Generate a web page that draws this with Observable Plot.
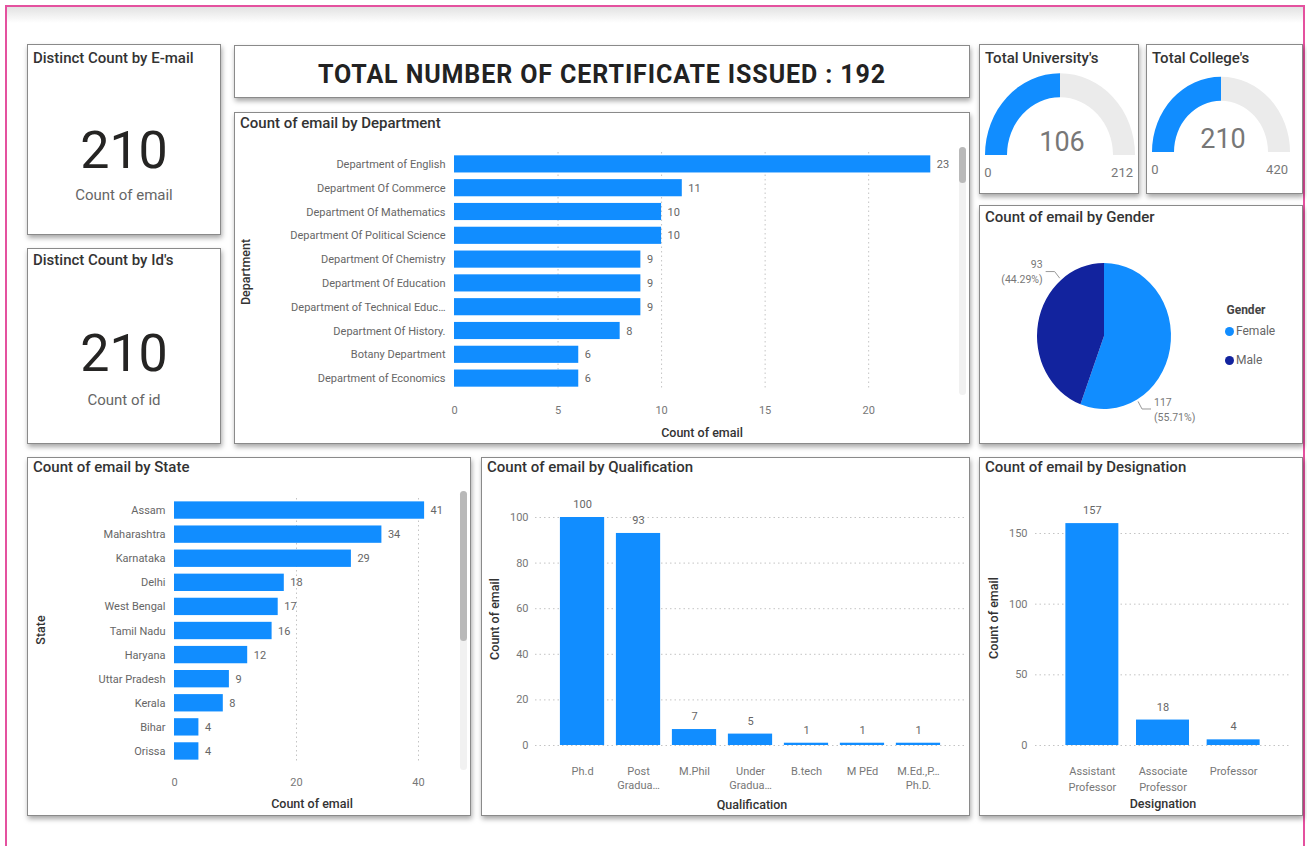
<!DOCTYPE html>
<html><head><meta charset="utf-8">
<script src="https://cdn.jsdelivr.net/npm/d3@7"></script>
<script src="https://cdn.jsdelivr.net/npm/@observablehq/plot@0.6"></script>
<style>
html,body{margin:0;padding:0;background:#fff;width:1307px;height:846px;overflow:hidden;font-family:Roboto,"Noto Sans",sans-serif;}
#frame{position:absolute;left:5px;top:5px;width:1300px;height:870px;border:2px solid #e4519f;box-sizing:border-box;}
#band{position:absolute;left:7px;top:7px;width:1296px;height:16px;background:linear-gradient(#e2e2e2,#fff);}
.panel{position:absolute;background:#fff;border:1.5px solid #8a8a8a;box-sizing:border-box;box-shadow:1px 3px 5px rgba(0,0,0,.35);}
.ptitle{position:absolute;left:5px;top:2px;font:500 15px Roboto,sans-serif;color:#333;white-space:nowrap;line-height:18px;}
.atitle{position:absolute;font:500 12.5px Roboto,sans-serif;color:#333;white-space:nowrap;}
.ctext{position:absolute;white-space:nowrap;transform:translate(-50%,-50%);}
.sbtrack{position:absolute;background:#f1f1f1;border-radius:4px;width:7px;}
.sbthumb{position:absolute;background:#b9b9b9;border-radius:4px;width:7px;}
svg.plotabs{position:absolute;}
</style></head>
<body>
<div id="frame"></div><div id="band"></div>
<script>
// ---------- data ----------
const kpiTitles = ["Distinct Count by E-mail", "Distinct Count by Id's"];
const kpiValues = [210, 210];
const kpiLabels = ["Count of email", "Count of id"];
const certTitle = "TOTAL NUMBER OF CERTIFICATE ISSUED";
const certTotal = 192;

const deptNames = ["Department of English", "Department Of Commerce", "Department Of Mathematics",
  "Department Of Political Science", "Department Of Chemistry", "Department Of Education",
  "Department of Technical Educ…", "Department Of History.", "Botany Department", "Department of Economics"];
const deptCounts = [23, 11, 10, 10, 9, 9, 9, 8, 6, 6];
const deptTicks = [0, 5, 10, 15, 20];

const stateNames = ["Assam", "Maharashtra", "Karnataka", "Delhi", "West Bengal", "Tamil Nadu",
  "Haryana", "Uttar Pradesh", "Kerala", "Bihar", "Orissa"];
const stateCounts = [41, 34, 29, 18, 17, 16, 12, 9, 8, 4, 4];
const stateTicks = [0, 20, 40];

const qualNames = ["Ph.d", "Post\nGradua…", "M.Phil", "Under\nGradua…", "B.tech", "M PEd", "M.Ed.,P…\nPh.D."];
const qualCounts = [100, 93, 7, 5, 1, 1, 1];
const qualTicks = [0, 20, 40, 60, 80, 100];

const desigNames = ["Assistant\nProfessor", "Associate\nProfessor", "Professor"];
const desigCounts = [157, 18, 4];
const desigTicks = [0, 50, 100, 150];

const genderNames = ["Female", "Male"];
const genderCounts = [117, 93];
const genderColors = ["#118DFF", "#12239E"];

const gaugeTitles = ["Total University's", "Total College's"];
const gaugeValues = [106, 210];
const gaugeMax = [212, 420];

// ---------- helpers ----------
const BLUE = "#118DFF";
const LABEL_FONT = "Roboto, 'Noto Sans', sans-serif";
const SY = 1.09;

function panel(x, y, w, h, title, titleTop) {
  const d = document.createElement("div");
  d.className = "panel";
  Object.assign(d.style, {left: x + "px", top: y + "px", width: w + "px", height: h + "px"});
  if (title) {
    const t = document.createElement("div");
    t.className = "ptitle"; t.textContent = title;
    if (titleTop != null) t.style.top = titleTop + "px";
    d.appendChild(t);
  }
  document.body.appendChild(d);
  return d;
}
function ctext(text, cx, cy, css) {
  const d = document.createElement("div");
  d.className = "ctext"; d.textContent = text;
  d.style.left = cx + "px"; d.style.top = cy + "px";
  Object.assign(d.style, css || {});
  document.body.appendChild(d);
  return d;
}
function axisTitle(text, cx, cy, rotate) {
  const d = document.createElement("div");
  d.className = "atitle"; d.textContent = text;
  d.style.left = cx + "px"; d.style.top = cy + "px";
  d.style.transform = "translate(-50%,-50%)" + (rotate ? " rotate(-90deg)" : "");
  document.body.appendChild(d);
}
function put(svg, x, y) {
  svg.classList.add("plotabs");
  svg.style.left = x + "px"; svg.style.top = y + "px";
  document.body.appendChild(svg);
}
function scrollbar(x, y, trackH, thumbH) {
  const t = document.createElement("div"); t.className = "sbtrack";
  Object.assign(t.style, {left: x + "px", top: y + "px", height: trackH + "px"});
  const b = document.createElement("div"); b.className = "sbthumb";
  Object.assign(b.style, {left: x + "px", top: y + "px", height: thumbH + "px"});
  document.body.appendChild(t); document.body.appendChild(b);
}
const baseStyle = {fontFamily: LABEL_FONT, fontSize: "11px", color: "#777", background: "transparent", overflow: "visible"};
const gridStyle = {stroke: "#c4c4c4", strokeOpacity: 1, strokeDasharray: "1.5 3"};

// ---------- panels ----------
panel(27, 44, 194, 191, kpiTitles[0], 4);
panel(27, 248, 194, 196, kpiTitles[1], 2);
panel(234, 45, 736, 53);
panel(234, 112, 736, 332, "Count of email by Department", 1);
panel(979, 44, 160, 150, gaugeTitles[0], 4);
panel(1146, 44, 157, 150, gaugeTitles[1], 4);
panel(979, 205, 324, 239, "Count of email by Gender", 2);
panel(27, 457, 444, 359, "Count of email by State", 0);
panel(481, 457, 489, 359, "Count of email by Qualification", 0);
panel(979, 457, 324, 359, "Count of email by Designation", 0);

// KPI cards
const kpiCenters = [[124, 150, 195], [124, 353, 400]];
kpiValues.forEach((v, i) => {
  const [cx, cy, ly] = kpiCenters[i];
  ctext(String(v), cx, cy, {font: "400 52px Roboto, sans-serif", color: "#252423"});
  ctext(kpiLabels[i], cx, ly, {font: "400 15px Roboto, sans-serif", color: "#666"});
});
ctext(`${certTitle} : ${certTotal}`, 602, 74, {font: "700 25px Roboto, sans-serif", letterSpacing: "0.9px", color: "#222"});

// ---------- Department ----------
const dept = deptNames.map((name, i) => ({name, count: deptCounts[i]}));
put(Plot.plot({
  width: 736, height: 300, marginLeft: 220, marginRight: 19, marginTop: 12, marginBottom: 50,
  style: baseStyle,
  x: {domain: [0, 24]},
  y: {domain: deptNames, paddingInner: 0.28, paddingOuter: 0.14, round: false},
  marks: [
    Plot.gridX(deptTicks.slice(1), gridStyle),
    Plot.barX(dept, {x: "count", y: "name", fill: BLUE}),
    Plot.text(dept, {x: "count", y: "name", text: "count", textAnchor: "start", dx: 6, fill: "#666"}),
    Plot.axisX(deptTicks, {tickSize: 0, tickPadding: 16, label: null}),
    Plot.axisY({tickSize: 0, tickPadding: 9, label: null, fill: "#666"})
  ]
}), 234, 140);
axisTitle("Count of email", 702, 432);
axisTitle("Department", 245, 272, true);
scrollbar(959, 147, 248, 36);

// ---------- State ----------
const states = stateNames.map((name, i) => ({name, count: stateCounts[i]}));
put(Plot.plot({
  width: 444, height: 325, marginLeft: 147, marginRight: 28.6, marginTop: 13, marginBottom: 47,
  style: baseStyle,
  x: {domain: [0, 44]},
  y: {domain: stateNames, paddingInner: 0.28, paddingOuter: 0.14, round: false},
  marks: [
    Plot.gridX(stateTicks.slice(1), gridStyle),
    Plot.barX(states, {x: "count", y: "name", fill: BLUE}),
    Plot.text(states, {x: "count", y: "name", text: "count", textAnchor: "start", dx: 6, fill: "#666"}),
    Plot.axisX(stateTicks, {tickSize: 0, tickPadding: 15, label: null}),
    Plot.axisY({tickSize: 0, tickPadding: 9, label: null, fill: "#666"})
  ]
}), 27, 485);
axisTitle("Count of email", 312, 803);
axisTitle("State", 40, 630, true);
scrollbar(460, 491, 279, 150);

// ---------- Qualification ----------
const qual = qualNames.map((name, i) => ({name, count: qualCounts[i]}));
put(Plot.plot({
  width: 489, height: 325, marginLeft: 54, marginRight: 5, marginTop: 32, marginBottom: 65,
  style: baseStyle,
  x: {domain: qualNames, paddingInner: 0.21, paddingOuter: 0.445, round: false},
  y: {domain: [0, 100]},
  marks: [
    Plot.gridY(qualTicks, gridStyle),
    Plot.barY(qual, {x: "name", y: "count", fill: BLUE}),
    Plot.text(qual, {x: "name", y: "count", text: "count", dy: -13, fill: "#666"}),
    Plot.axisY(qualTicks, {tickSize: 0, tickPadding: 7, label: null}),
    Plot.axisX({tickSize: 0, tickPadding: 19, label: null, lineHeight: 1.3})
  ]
}), 481, 485);
axisTitle("Qualification", 752, 804);
axisTitle("Count of email", 494, 619, true);

// ---------- Designation ----------
const desig = desigNames.map((name, i) => ({name, count: desigCounts[i]}));
put(Plot.plot({
  width: 324, height: 325, marginLeft: 56, marginRight: 13, marginTop: 48, marginBottom: 65,
  style: baseStyle,
  x: {domain: desigNames, paddingInner: 0.25, paddingOuter: 0.43, round: false},
  y: {domain: [0, 150]},
  marks: [
    Plot.gridY(desigTicks, gridStyle),
    Plot.barY(desig, {x: "name", y: "count", fill: BLUE}),
    Plot.text(desig, {x: "name", y: "count", text: "count", dy: -13, fill: "#666"}),
    Plot.axisY(desigTicks, {tickSize: 0, tickPadding: 8, label: null}),
    Plot.axisX({tickSize: 0, tickPadding: 19, label: null, lineHeight: 1.4})
  ]
}), 979, 485);
axisTitle("Designation", 1163, 803);
axisTitle("Count of email", 993, 618, true);

// ---------- Gauges ----------
function gaugePlot(value, max, w, h, cx, cy, ro, ri) {
  const ang = Plot.scale({x: {domain: [0, max], range: [-Math.PI / 2, Math.PI / 2]}});
  return Plot.plot({
    width: w, height: h, margin: 0, style: {...baseStyle},
    marks: [() => {
      const g = d3.create("svg:g");
      const arc = d3.arc().innerRadius(ri).outerRadius(ro);
      const a = g.append("g").attr("transform", `translate(${cx},${cy}) scale(1,${SY})`);
      a.append("path").attr("d", arc({startAngle: ang.apply(value), endAngle: ang.apply(max)})).attr("fill", "#ebebeb");
      a.append("path").attr("d", arc({startAngle: ang.apply(0), endAngle: ang.apply(value)})).attr("fill", BLUE);
      g.append("text").attr("x", cx + 2).attr("y", cy - 13).attr("text-anchor", "middle").attr("dy", "0.35em")
        .attr("font-size", 27).attr("fill", "#777").text(value);
      g.append("text").attr("x", cx - ro + 3).attr("y", cy + 17).attr("dy", "0.35em")
        .attr("font-size", 13).attr("fill", "#777").text(0);
      g.append("text").attr("x", cx + ro - 2).attr("y", cy + 17).attr("dy", "0.35em").attr("text-anchor", "end")
        .attr("font-size", 13).attr("fill", "#777").text(max);
      return g.node();
    }]
  });
}
put(gaugePlot(gaugeValues[0], gaugeMax[0], 160, 125, 81, 89, 75, 53), 979, 66);
put(gaugePlot(gaugeValues[1], gaugeMax[1], 157, 125, 75, 86, 69, 47), 1146, 66);

// ---------- Gender pie ----------
const color = Plot.scale({color: {domain: genderNames, range: genderColors}});
const genders = genderNames.map((name, i) => ({name, count: genderCounts[i]}));
const total = d3.sum(genderCounts);
put(Plot.plot({
  width: 324, height: 210, margin: 0, style: {...baseStyle, fontSize: "10.5px"},
  marks: [() => {
    const cx = 125, cy = 106, r = 67;
    const g = d3.create("svg:g");
    const arcs = d3.pie().sort(null).value(d => d.count)(genders);
    const p = g.append("g").attr("transform", `translate(${cx},${cy}) scale(1,${SY})`);
    p.selectAll("path").data(arcs).join("path")
      .attr("d", d3.arc().innerRadius(0).outerRadius(r))
      .attr("fill", d => color.apply(d.data.name));
    arcs.forEach(d => {
      const a = d.startAngle + 0.75 * (d.endAngle - d.startAngle);
      const sx = Math.sin(a), cy_ = -Math.cos(a);
      const side = sx < 0 ? -1 : 1;
      const x0 = cx + sx * (r + 2), y0 = cy + cy_ * (r + 2) * SY;
      const x1 = cx + sx * (r + 10), y1 = cy + cy_ * (r + 10) * SY;
      const x2 = x1 + side * 9;
      g.append("path").attr("d", `M${x0},${y0}L${x1},${y1}L${x2},${y1}`).attr("fill", "none").attr("stroke", "#999");
      const t = g.append("text").attr("x", x2 + side * 3).attr("y", y1).attr("fill", "#777")
        .attr("text-anchor", side < 0 ? "end" : "start");
      t.append("tspan").attr("x", x2 + side * 3).attr("dy", "-0.3em").text(d.data.count);
      t.append("tspan").attr("x", x2 + side * 3).attr("dy", "1.4em").text(`(${(100 * d.data.count / total).toFixed(2)}%)`);
    });
    return g.node();
  }]
}), 979, 230);
// legend
ctext("Gender", 1246, 310, {font: "700 12px Roboto, sans-serif", color: "#444"});
genderNames.forEach((n, i) => {
  const row = document.createElement("div");
  Object.assign(row.style, {position: "absolute", left: "1225px", top: (324 + i * 29) + "px", font: "400 12px Roboto, sans-serif", color: "#666", display: "flex", alignItems: "center", whiteSpace: "nowrap"});
  const dot = document.createElement("span");
  Object.assign(dot.style, {display: "inline-block", width: "9px", height: "9px", borderRadius: "50%", background: color.apply(n), marginRight: "2px"});
  row.appendChild(dot); row.appendChild(document.createTextNode(n));
  document.body.appendChild(row);
});
</script>
</body></html>
